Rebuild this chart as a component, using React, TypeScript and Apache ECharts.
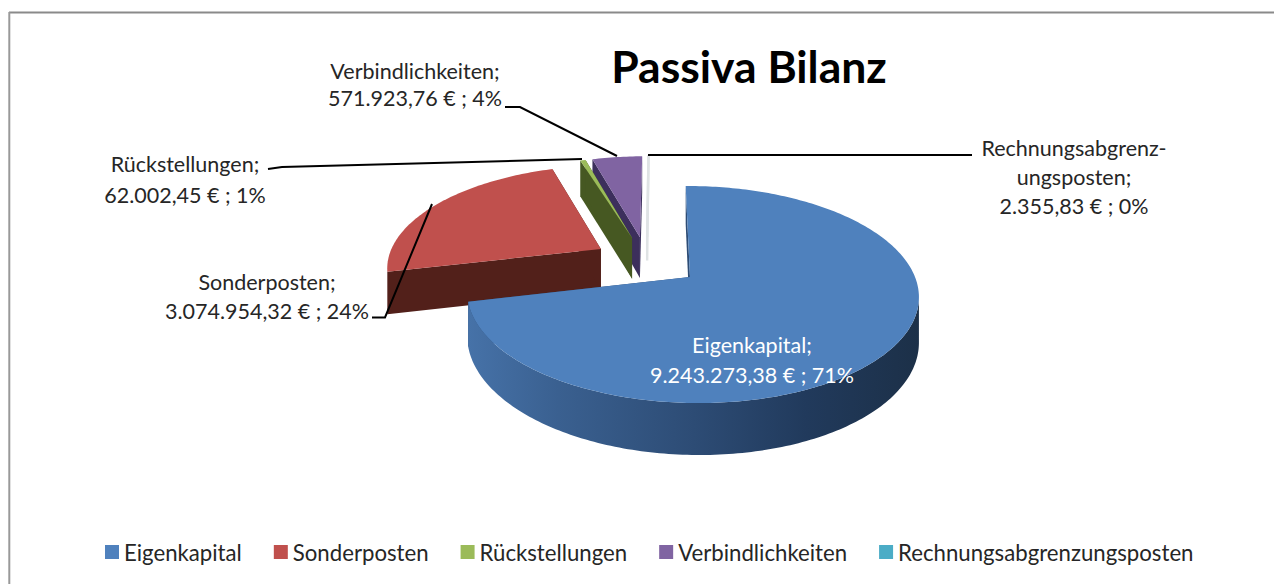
import React, { useEffect, useRef } from "react";
import * as echarts from "echarts";

const categories = ["Eigenkapital", "Sonderposten", "Rückstellungen", "Verbindlichkeiten", "Rechnungsabgrenzungsposten"];
const values = [9243273.38, 3074954.32, 62002.45, 571923.76, 2355.83];
const percentLabels = [71, 24, 1, 4, 0];
const topColors = ["#4F81BD", "#C0504D", "#9BBB59", "#8064A2", "#4BACC6"];
const wallColors = ["#2d4c75", "#52201a", "#465822", "#3c2f5c", "#e2e2e2"];

const FONT = "Lato, Carlito, sans-serif";
const euro = (v: number) =>
  v.toLocaleString("de-DE", { minimumFractionDigits: 2, maximumFractionDigits: 2 }) + " € ; ";

// Projection of the tilted pie plane on to the page
const P = { ax: 690, ay: 277, R: 222.8, S: 105.7, k: 0.161, m: 0.01, skew: -5, depth: 43.6, cu: -0.196, cv: 0.155, explode: 0.25 };
const project = (u: number, v: number, lower: number) => {
  const w = 1 + P.k * v - P.m * u;
  return [P.ax + (P.R * u + P.skew * v) / w, P.ay + (-P.S * v + P.depth * lower) / w];
};

const total = values.reduce((a, b) => a + b, 0);
const cumulative = values.reduce<number[]>((acc, v) => [...acc, acc[acc.length - 1] + v], [0]);

function renderSlice(index: number) {
  const a0 = (cumulative[index] / total) * Math.PI * 2;
  const a1 = (cumulative[index + 1] / total) * Math.PI * 2;
  const mid = (a0 + a1) / 2;
  const ou = P.cu + P.explode * Math.sin(mid);
  const ov = P.cv + P.explode * Math.cos(mid);
  const wallDepth = index === 4 ? 0.58 : 1;
  const steps = Math.max(2, Math.ceil(((a1 - a0) * 180) / Math.PI));
  const arc: number[][] = [];
  for (let i = 0; i <= steps; i++) {
    const a = a0 + ((a1 - a0) * i) / steps;
    arc.push([ou + Math.sin(a), ov + Math.cos(a)]);
  }
  const top = arc.map(([u, v]) => project(u, v, 0));
  const apexTop = project(ou, ov, 0);
  const apexLow = project(ou, ov, wallDepth);
  const low = arc.map(([u, v]) => project(u, v, wallDepth));
  const thin = index === 4;
  const wallStyle: any = { fill: wallColors[index] };
  const children: any[] = [];
  const poly = (points: number[][], style: any) => ({ type: "polygon", shape: { points }, style });

  // the faces behind the top surface
  children.push(poly([top[0], apexTop, apexLow, low[0]], wallStyle));
  children.push(poly([top[top.length - 1], apexTop, apexLow, low[low.length - 1]], wallStyle));

  // outer wall: the part of the arc that turns toward the viewer
  const frontIdx: number[] = [];
  for (let i = 0; i < top.length; i++) {
    const goesLeft = (i < top.length - 1 && top[i + 1][0] < top[i][0]) || (i > 0 && top[i][0] < top[i - 1][0]);
    if (goesLeft) frontIdx.push(i);
  }
  if (frontIdx.length > 1) {
    const outer = [...frontIdx.map((i) => top[i]), ...frontIdx.slice().reverse().map((i) => low[i])];
    const fill =
      index === 0
        ? {
            type: "linear",
            x: 1,
            y: 0,
            x2: 0,
            y2: 0,
            colorStops: [
              { offset: 0, color: "#1c3048" },
              { offset: 0.25, color: "#213a5c" },
              { offset: 0.5, color: "#2d4c75" },
              { offset: 0.8, color: "#3a6090" },
              { offset: 1, color: "#4672a8" },
            ],
          }
        : wallColors[index];
    children.push(poly(outer, { fill }));
  }
  // top surface
  const topFill = thin ? "#dfe3e4" : topColors[index];
  const topStyle: any = thin ? { fill: topFill, stroke: topFill, lineWidth: 2.4 } : { fill: topFill };
  children.push(poly([apexTop, ...top], topStyle));
  if (thin) children.push(poly([top[0], apexTop, apexLow], { fill: topFill, stroke: topFill, lineWidth: 2.4 }));
  return { type: "group", children };
}

const sliceLabels = categories.map((c, i) => `${euro(values[i])}${percentLabels[i]}%`);

const labelText = (text: string, x: number, y: number, color = "#262626", lineHeight = 29) => ({
  type: "text",
  x,
  y,
  z: 20,
  style: { text, x: 0, y: 0, fill: color, font: `21.5px ${FONT}`, align: "center", verticalAlign: "middle", lineHeight },
});
const leader = (points: number[][]) => ({
  type: "polyline",
  z: 19,
  shape: { points },
  style: { stroke: "#000", lineWidth: 2, fill: "none" },
});

export default function App() {
  const ref = useRef<HTMLDivElement>(null);
  useEffect(() => {
    const chart = echarts.init(ref.current!, undefined, { renderer: "svg" });
    const drawOrder = [4, 3, 2, 1, 0];
    chart.setOption({
      animation: false,
      backgroundColor: "#fff",
      title: {
        text: "Passiva Bilanz",
        left: 744,
        top: 38,
        textAlign: "center",
        textStyle: { fontFamily: FONT, fontSize: 44.5, fontWeight: "bold", color: "#000" },
      },
      legend: {
        data: categories,
        left: 100,
        top: 536,
        icon: "rect",
        itemWidth: 14,
        itemHeight: 14,
        itemGap: 32,
        selectedMode: false,
        textStyle: { fontFamily: FONT, fontSize: 22.2, color: "#262626" },
      },
      series: drawOrder.map((i) => ({
        type: "custom",
        name: categories[i],
        coordinateSystem: "none",
        silent: true,
        z: 2 + (4 - i),
        itemStyle: { color: topColors[i] },
        data: [[values[i]]],
        renderItem: () => renderSlice(i),
      })),
      graphic: [
        { type: "line", z: 18, shape: { x1: 9, y1: 12.5, x2: 1274, y2: 12.5 }, style: { stroke: "#8a8a8a", lineWidth: 2 } },
        { type: "line", z: 18, shape: { x1: 9.3, y1: 12, x2: 9.3, y2: 584 }, style: { stroke: "#999", lineWidth: 2 } },
        labelText(`${categories[0]};\n${sliceLabels[0]}`, 752, 360, "#ffffff", 30),
        labelText(`${categories[1]};\n${sliceLabels[1]}`, 267, 296),
        labelText(`${categories[2]};\n${sliceLabels[2]}`, 185, 179, "#262626", 31),
        labelText(`${categories[3]};\n${sliceLabels[3]}`, 415, 84, "#262626", 27),
        labelText(`Rechnungsabgrenz-\nungsposten;\n${sliceLabels[4]}`, 1074, 176.5),
        leader([[372, 317.5], [385, 317.5], [432, 204]]),
        leader([[268, 169], [282, 167], [582, 159]]),
        leader([[505, 107], [520, 107], [617, 156]]),
        leader([[648, 155], [972, 155]]),
      ],
    });
    return () => chart.dispose();
  }, []);
  return <div ref={ref} style={{ position: "fixed", left: 0, top: 0, width: 1274, height: 584 }} />;
}
